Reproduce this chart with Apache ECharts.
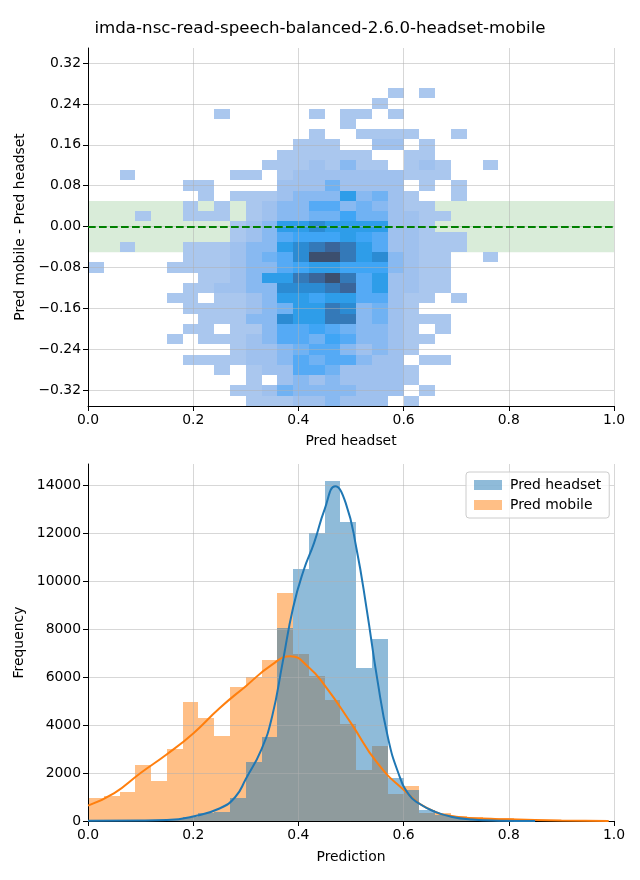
<!DOCTYPE html>
<html>
<head>
<meta charset="utf-8">
<script src="https://cdn.jsdelivr.net/npm/echarts@6/dist/echarts.min.js"></script>
<style>
html,body{margin:0;padding:0;background:#ffffff;}
#chart{width:640px;height:880px;}
</style>
</head>
<body>
<div id="chart"></div>
<script>
// ---------------- data ----------------
const titleText = 'imda-nsc-read-speech-balanced-2.6.0-headset-mobile';

// 2D histogram (top panel): bin layout and estimated relative counts (levels)
const heatXBinStart = 0;
const heatXBinWidth = 0.03;
const heatYBinStart = -0.351;
const heatYBinHeight = 0.02006;
// rows from bottom (index 0 = lowest y bin), 26 columns each
const heatRows = [
  [0,0,0,0,0,0,0,0,0,0,1,1,1,2,2,3,2,2,2,0,1,0,0,0,0,0],
  [0,0,0,0,0,0,0,0,0,1,1,2,4,3,3,3,3,2,2,2,0,1,0,0,0,0],
  [0,0,0,0,0,0,0,0,0,0,1,0,2,3,2,3,2,2,2,2,1,0,0,0,0,0],
  [0,0,0,0,0,0,0,0,1,0,1,2,2,5,5,4,2,2,2,2,1,0,0,0,0,0],
  [0,0,0,0,0,0,1,1,1,1,2,2,3,5,4,5,5,3,2,2,0,1,1,0,0,0],
  [0,0,0,0,0,0,0,0,0,1,2,2,3,4,5,5,3,2,3,2,1,0,0,0,0,0],
  [0,0,0,0,0,1,0,1,1,1,2,3,5,5,4,6,5,3,3,2,1,1,0,0,0,0],
  [0,0,0,0,0,0,1,1,0,1,1,3,5,5,6,5,4,3,3,2,1,0,1,0,0,0],
  [0,0,0,0,0,0,0,1,1,1,3,3,8,7,7,9,9,3,4,2,1,1,1,0,0,0],
  [0,0,0,0,0,0,1,1,1,1,2,3,4,7,7,9,8,3,4,2,1,0,0,0,0,0],
  [0,0,0,0,0,1,1,0,1,1,2,3,7,7,6,7,7,5,5,2,1,1,0,1,0,0],
  [0,0,0,0,0,0,1,1,2,2,3,3,8,8,8,9,10,5,7,2,2,1,1,0,0,0],
  [0,0,0,0,0,0,0,1,1,2,3,7,7,9,10,11,9,5,7,2,2,1,1,0,0,0],
  [1,0,0,0,0,1,1,1,1,2,3,3,5,6,7,7,6,6,6,3,2,1,1,0,0,0],
  [0,0,0,0,0,0,1,1,1,2,3,4,5,8,11,11,9,7,8,3,2,1,1,0,0,1],
  [0,0,1,0,0,0,1,1,1,2,3,3,7,8,9,10,9,7,5,2,2,1,1,1,0,0],
  [0,0,0,0,0,0,0,0,0,1,2,3,5,6,6,6,7,6,5,2,2,1,1,1,0,0],
  [0,0,0,0,0,0,0,0,0,1,2,3,7,7,8,7,7,7,7,2,2,1,0,0,0,0],
  [0,0,0,1,0,0,1,1,1,0,1,2,3,3,4,4,6,4,4,2,2,1,1,0,0,0],
  [0,0,0,0,0,0,1,0,1,0,1,2,3,3,5,5,3,4,3,2,1,1,0,0,0,0],
  [0,0,0,0,0,0,0,1,0,1,1,1,2,3,3,3,7,3,4,2,1,0,0,1,0,0],
  [0,0,0,0,0,0,1,1,0,0,0,0,2,2,2,4,2,2,2,2,0,1,0,1,0,0],
  [0,0,1,0,0,0,0,0,0,1,1,0,1,2,2,2,2,2,2,2,1,1,1,0,0,0],
  [0,0,0,0,0,0,0,0,0,0,0,1,1,1,2,1,3,1,1,0,1,2,1,0,0,1],
  [0,0,0,0,0,0,0,0,0,0,0,0,1,1,1,1,1,1,0,0,1,1,0,0,0,0],
  [0,0,0,0,0,0,0,0,0,0,0,0,0,1,1,1,0,0,2,2,0,1,0,0,0,0],
  [0,0,0,0,0,0,0,0,0,0,0,0,0,0,1,0,0,1,1,1,1,0,0,1,0,0],
  [0,0,0,0,0,0,0,0,0,0,0,0,0,0,0,0,1,0,0,0,0,0,0,0,0,0],
  [0,0,0,0,0,0,0,0,1,0,0,0,0,0,1,0,1,1,0,1,0,0,0,0,0,0],
  [0,0,0,0,0,0,0,0,0,0,0,0,0,0,0,0,0,0,1,0,0,0,0,0,0,0],
  [0,0,0,0,0,0,0,0,0,0,0,0,0,0,0,0,0,0,0,1,0,1,0,0,0,0]
];
const topYMin = -0.351;
const topYMax = 0.3495;
const topYTicks = [-0.32,-0.24,-0.16,-0.08,0,0.08,0.16,0.24,0.32];
const xTicksMin = 0, xTicksMax = 1, xTickStep = 0.2;
const bandLimits = [-0.05, 0.05];
const refLineY = 0;

// 1D histograms (bottom panel)
const histBinStart = 0;
const histBinWidth = 0.03;
const headsetCounts = [40,30,30,40,60,90,180,350,390,970,2460,3510,8030,10500,11990,14170,12460,6375,7580,1790,1290,460,250,150,100,80,60,40,30,20,10,0,0];
const mobileCounts  = [950,1040,1210,2330,1670,3000,4940,4310,3540,5580,6000,6710,9500,6960,6040,5040,4040,2125,3125,1125,1460,350,330,200,150,130,110,90,60,40,20,10,5];
// density curves (KDE), in count units
const headsetKde = [[0,15],[0.1,20],[0.15,40],[0.2,190],[0.25,520],[0.28,1000],[0.3,1750],[0.33,3000],[0.35,4350],[0.37,6600],[0.39,8900],[0.41,10450],[0.43,11600],[0.45,13000],[0.47,13950],[0.49,13250],[0.51,11400],[0.53,8800],[0.55,5900],[0.57,3500],[0.59,2000],[0.61,1100],[0.63,720],[0.66,380],[0.69,180],[0.73,60],[0.78,15],[0.85,2]];
const mobileKde = [[0,640],[0.05,1160],[0.1,2000],[0.15,2780],[0.2,3650],[0.25,4700],[0.3,5620],[0.35,6520],[0.385,6870],[0.42,6400],[0.45,5650],[0.5,4080],[0.55,2420],[0.6,1300],[0.65,480],[0.7,180],[0.75,100],[0.8,70],[0.9,25],[0.99,5]];
const freqMin = 0, freqMax = 14878;
const freqTicks = [0,2000,4000,6000,8000,10000,12000,14000];
const seriesNames = ['Pred headset','Pred mobile'];

// ---------------- styles ----------------
const FONT = 'DejaVu Sans';
const heatPalette = ['rgba(0,0,0,0)','#aac7ee','#9fc1ee','#88b9f1','#70b2f3','#55aaf5','#3fa5f5','#2e9de9','#2b8bd3','#3479b8','#3a659a','#3c4f6e'];
const gridLineColor = 'rgba(176,176,176,0.5)';

// build datasets
const heatData = [];
heatRows.forEach((row, r) => {
  row.forEach((lvl, c) => {
    if (lvl > 0) heatData.push([heatXBinStart + c * heatXBinWidth, heatYBinStart + r * heatYBinHeight, lvl]);
  });
});
const headsetData = headsetCounts.map((v, i) => [histBinStart + i * histBinWidth, v]);
const mobileData = mobileCounts.map((v, i) => [histBinStart + i * histBinWidth, v]);

function heatRender(params, api) {
  const x0 = api.value(0), y0 = api.value(1);
  const p0 = api.coord([x0, y0]);
  const p1 = api.coord([x0 + heatXBinWidth, y0 + heatYBinHeight]);
  const x = Math.round(p0[0]), xe = Math.round(p1[0]);
  const yt = Math.round(p1[1]), yb = Math.round(p0[1]);
  return {type: 'rect', shape: {x: x, y: yt, width: xe - x, height: yb - yt},
          style: {fill: heatPalette[api.value(2)]}};
}
function histRender(params, api) {
  const x0 = api.value(0), v = api.value(1);
  if (!(v > 0)) return null;
  const p0 = api.coord([x0, 0]);
  const p1 = api.coord([x0 + histBinWidth, v]);
  const x = Math.round(p0[0]), xe = Math.round(p1[0]);
  const yt = Math.round(p1[1]), yb = Math.round(p0[1]);
  return {type: 'rect', shape: {x: x, y: yt, width: xe - x, height: yb - yt},
          style: {fill: api.visual('color')}};
}

const axisCommon = {
  axisLine: {show: true, onZero: false, lineStyle: {color: '#000', width: 1}},
  axisTick: {show: true, length: 5, lineStyle: {color: '#000', width: 1}},
  axisLabel: {color: '#000', fontSize: 13.9, fontFamily: FONT, margin: 7},
  splitLine: {show: true, lineStyle: {color: gridLineColor, width: 1}},
  nameTextStyle: {color: '#000', fontSize: 13.9, fontFamily: FONT},
  z: 3
};
function fmtX(v) { return v.toFixed(1); }
function fmtY(v) { return (v < 0 ? '\u2212' : '') + Math.abs(v).toFixed(2); }

const option = {
  animation: false,
  backgroundColor: '#ffffff',
  textStyle: {fontFamily: FONT},
  title: {text: titleText, left: 'center', top: 15,
          textStyle: {fontSize: 16.67, fontWeight: 'normal', color: '#000', fontFamily: FONT}},
  legend: {
    data: seriesNames, orient: 'vertical', left: 466, top: 472,
    itemWidth: 28, itemHeight: 10, itemGap: 6, icon: 'rect',
    padding: [6, 8, 6, 8], backgroundColor: 'rgba(255,255,255,0.8)',
    borderColor: '#cccccc', borderWidth: 1, borderRadius: 3,
    textStyle: {fontSize: 13.9, color: '#000', fontFamily: FONT, padding: [0, 0, 0, 3]}
  },
  grid: [
    {left: 88, top: 48, width: 526, height: 358, containLabel: false},
    {left: 88, top: 464, width: 526, height: 357, containLabel: false}
  ],
  xAxis: [
    Object.assign({}, axisCommon, {type: 'value', gridIndex: 0, min: xTicksMin, max: xTicksMax, interval: xTickStep,
      axisLabel: Object.assign({}, axisCommon.axisLabel, {formatter: fmtX}),
      name: 'Pred headset', nameLocation: 'middle', nameGap: 28}),
    Object.assign({}, axisCommon, {type: 'value', gridIndex: 1, min: xTicksMin, max: xTicksMax, interval: xTickStep,
      axisLabel: Object.assign({}, axisCommon.axisLabel, {formatter: fmtX}),
      name: 'Prediction', nameLocation: 'middle', nameGap: 29})
  ],
  yAxis: [
    Object.assign({}, axisCommon, {type: 'value', gridIndex: 0, min: topYMin, max: topYMax,
      axisTick: Object.assign({}, axisCommon.axisTick, {customValues: topYTicks}),
      axisLabel: Object.assign({}, axisCommon.axisLabel, {customValues: topYTicks, formatter: fmtY}),
      name: 'Pred mobile - Pred headset', nameLocation: 'middle', nameGap: 58, nameRotate: 90}),
    Object.assign({}, axisCommon, {type: 'value', gridIndex: 1, min: freqMin, max: freqMax,
      axisTick: Object.assign({}, axisCommon.axisTick, {customValues: freqTicks}),
      axisLabel: Object.assign({}, axisCommon.axisLabel, {customValues: freqTicks, formatter: v => String(Math.round(v))}),
      name: 'Frequency', nameLocation: 'middle', nameGap: 58, nameRotate: 90})
  ],
  series: [
    {type: 'line', name: 'band', xAxisIndex: 0, yAxisIndex: 0, data: [], z: 1, silent: true,
     markArea: {silent: true, itemStyle: {color: 'rgba(0,128,0,0.15)'},
       data: [[{xAxis: xTicksMin, yAxis: bandLimits[0]}, {xAxis: xTicksMax, yAxis: bandLimits[1]}]]}},
    {type: 'custom', name: 'hist2d', xAxisIndex: 0, yAxisIndex: 0, data: heatData, renderItem: heatRender,
     encode: {x: 0, y: 1}, z: 2, silent: true},
    {type: 'line', name: 'zero', xAxisIndex: 0, yAxisIndex: 0, data: [], z: 5, silent: true,
     markLine: {silent: true, symbol: 'none', label: {show: false},
       lineStyle: {color: '#008000', type: [7.7, 3.3], width: 2},
       data: [{yAxis: refLineY}]}},
    {type: 'custom', name: seriesNames[1], xAxisIndex: 1, yAxisIndex: 1, data: mobileData, renderItem: histRender,
     encode: {x: 0, y: 1}, z: 1, itemStyle: {color: 'rgba(255,127,14,0.5)'}, silent: true},
    {type: 'custom', name: seriesNames[0], xAxisIndex: 1, yAxisIndex: 1, data: headsetData, renderItem: histRender,
     encode: {x: 0, y: 1}, z: 2, itemStyle: {color: 'rgba(31,119,180,0.5)'}, silent: true},
    {type: 'line', name: 'kde headset', xAxisIndex: 1, yAxisIndex: 1, data: headsetKde, smooth: 0.5,
     showSymbol: false, symbol: 'none', lineStyle: {color: '#1f77b4', width: 2}, itemStyle: {color: '#1f77b4'}, z: 5, silent: true},
    {type: 'line', name: 'kde mobile', xAxisIndex: 1, yAxisIndex: 1, data: mobileKde, smooth: 0.5,
     showSymbol: false, symbol: 'none', lineStyle: {color: '#ff7f0e', width: 2}, itemStyle: {color: '#ff7f0e'}, z: 4, silent: true}
  ]
};

const chart = echarts.init(document.getElementById('chart'), null, {renderer: 'canvas'});
chart.setOption(option);
</script>
</body>
</html>
